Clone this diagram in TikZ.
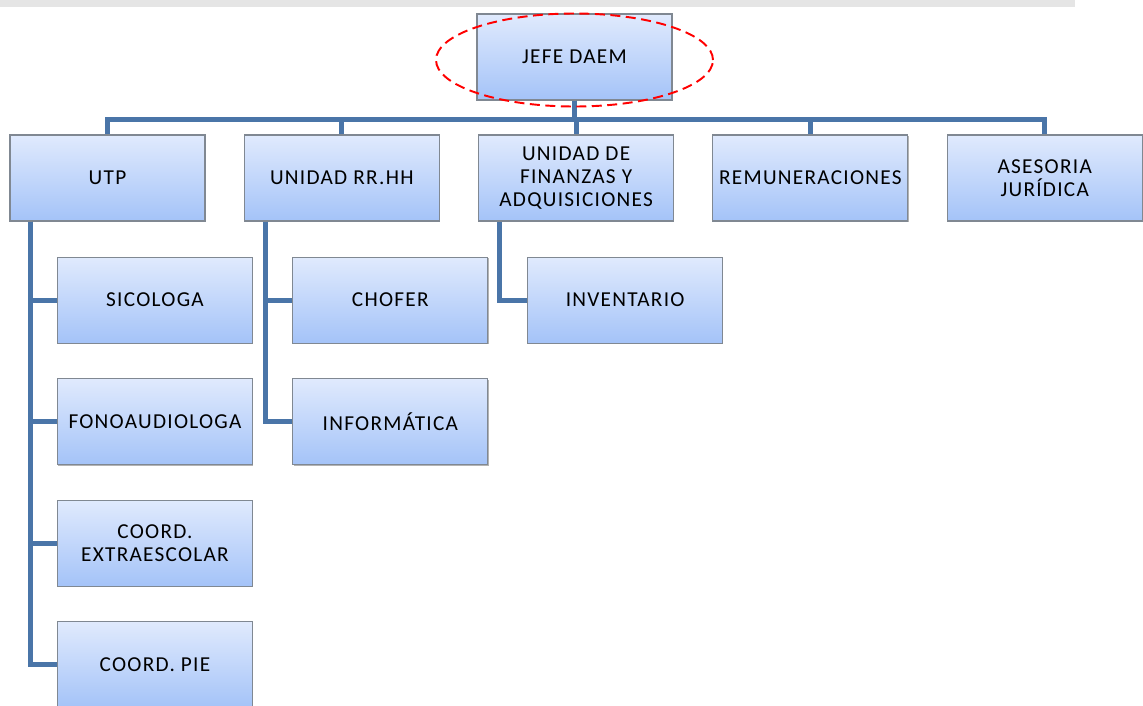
\documentclass[tikz,border=0pt]{standalone}
\usepackage{fontspec}
\setmainfont{Carlito}[LetterSpace=6]
\usepackage{tikz}
\usetikzlibrary{positioning, calc, shadows}
\definecolor{linkblue}{RGB}{74,117,168}
\definecolor{boxtop}{RGB}{224,234,253}
\definecolor{boxbot}{RGB}{164,195,248}
\definecolor{boxline}{RGB}{128,136,146}
\tikzset{
         mybox/.style={draw=boxline, line width=.6pt, top color=boxtop, bottom color=boxbot,
                       minimum height=1.72cm, minimum width=3.9cm, align=center,
                       inner sep=0pt, font=\fontsize{12.1}{12.9}\selectfont,
                       drop shadow={shadow xshift=.5pt, shadow yshift=-.7pt, opacity=.6}},
         mylink/.style={draw=linkblue, line width=2.8pt, line join=miter},
         myring/.style={draw=red, line width=1.1pt, dash pattern=on .2cm off .11cm}
      }
\begin{document}
\begin{tikzpicture}[node distance=.765cm]
               \useasboundingbox (0,0) rectangle (22.86,14.1);
               \fill[gray!20] (0,13.96) rectangle (21.5,14.1);
               \node[mybox] (jefe) at (11.49,12.96) {JEFE DAEM};
               \node[mybox] (utp) at (2.15,10.54) {UTP};
               \node[mybox, right=of utp] (rrhh) {UNIDAD RR.HH};
               \node[mybox, right=of rrhh] (finanzas) {UNIDAD DE\\ FINANZAS Y\\ ADQUISICIONES};
               \node[mybox, right=of finanzas] (remun) {REMUNERACIONES};
               \node[mybox, right=of remun] (asesoria) {ASESORIA\\ JURÍDICA};
               \node[mybox, below=.7cm of utp, xshift=.95cm] (sicologa) {SICOLOGA};
               \node[mybox, below=.69cm of sicologa] (fono) {FONOAUDIOLOGA};
               \node[mybox, below=.69cm of fono] (extra) {COORD.\\ EXTRAESCOLAR};
               \node[mybox, below=.69cm of extra] (pie) {COORD. PIE};
               \node[mybox, below=.7cm of rrhh, xshift=.97cm] (chofer) {CHOFER};
               \node[mybox, below=.69cm of chofer] (informatica) {INFORMÁTICA};
               \node[mybox, below=.7cm of finanzas, xshift=.98cm] (inventario) {INVENTARIO};
               \coordinate[below=.38cm of jefe.south] (bus);
               \foreach \n in {utp, rrhh, finanzas, remun, asesoria}
                  \draw[mylink] (jefe.south) -- (bus) -| (\n.north);
               \foreach \n in {sicologa, fono, extra, pie}
                  \draw[mylink] ([xshift=.42cm]utp.south west) |- (\n.west);
               \foreach \n in {chofer, informatica}
                  \draw[mylink] ([xshift=.44cm]rrhh.south west) |- (\n.west);
               \draw[mylink] ([xshift=.42cm]finanzas.south west) |- (inventario.west);
               \draw[myring] ([yshift=-.06cm]jefe.center) ellipse (2.77cm and .93cm);
               \end{tikzpicture}
\end{document}
